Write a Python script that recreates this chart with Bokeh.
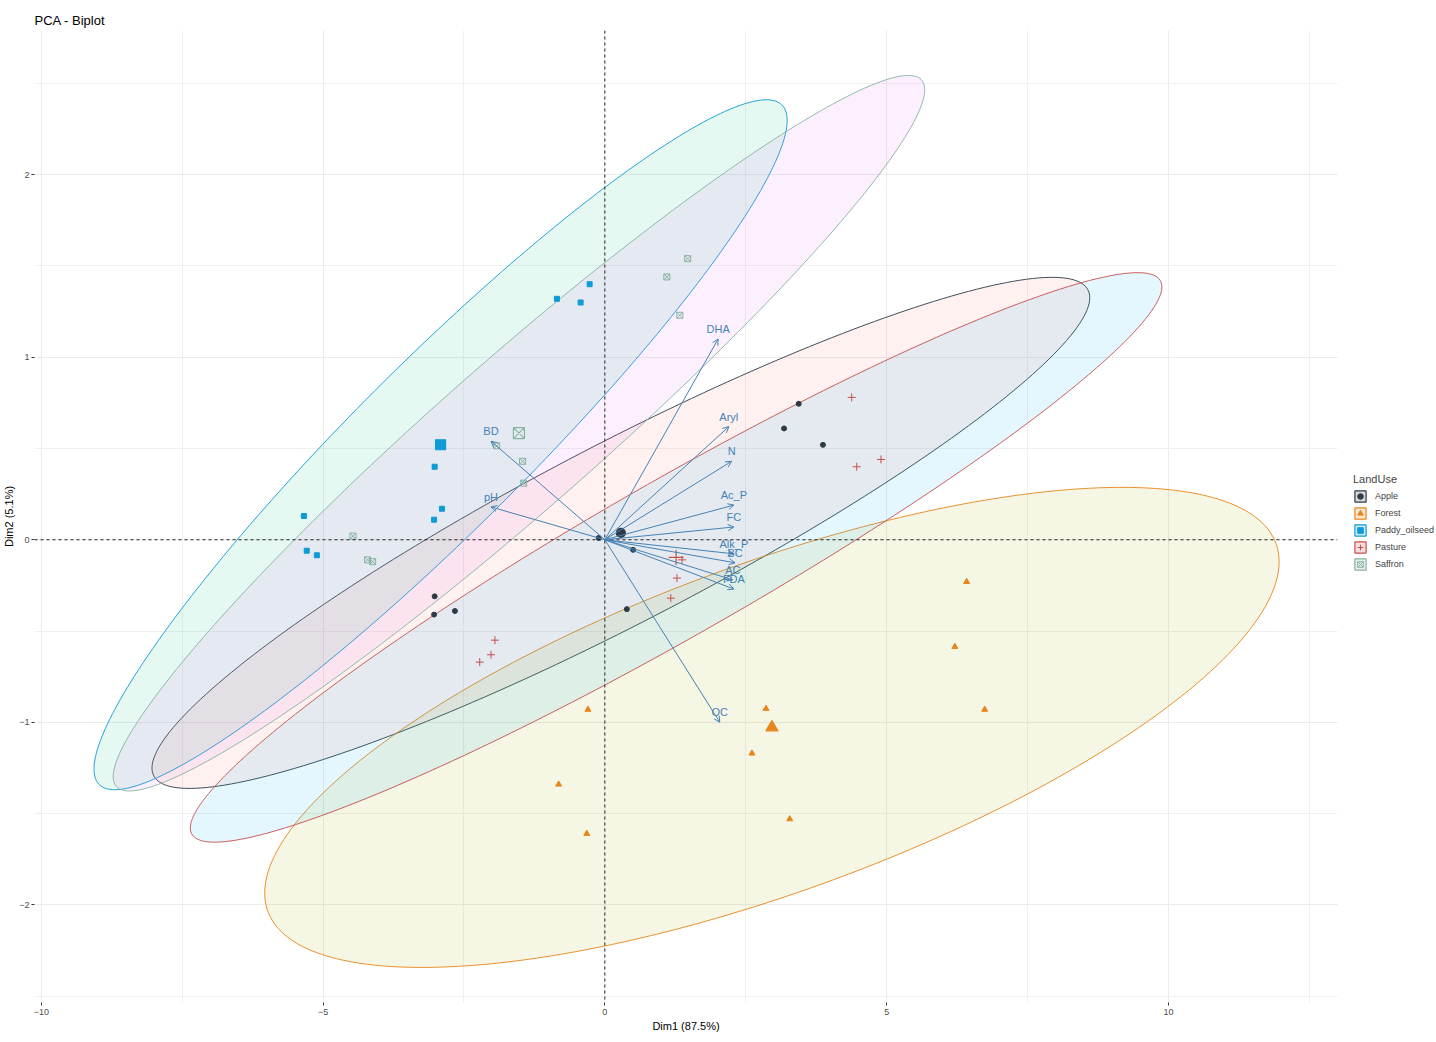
import numpy as np
from bokeh.plotting import figure
from bokeh.models import (ColumnDataSource, Range1d, Span, Arrow, OpenHead, Legend,
                          LegendItem, SingleIntervalTicker, Title)
from bokeh.core.properties import value
from bokeh.embed import file_html
from bokeh.resources import INLINE

# ---------------- data ----------------
groups = ["Apple", "Forest", "Paddy_oilseed", "Pasture", "Saffron"]

apple_x = [-0.11, 0.50, -3.02, -3.03, -2.66, 0.39, 3.18, 3.44, 3.87]
apple_y = [0.01, -0.055, -0.31, -0.41, -0.39, -0.38, 0.61, 0.745, 0.52]
forest_x = [6.42, 6.21, 6.74, -0.30, 2.86, 2.61, -0.82, -0.32, 3.28]
forest_y = [-0.23, -0.586, -0.93, -0.93, -0.925, -1.17, -1.34, -1.61, -1.53]
paddy_x = [-0.85, -0.43, -0.27, -3.02, -2.89, -3.03, -5.34, -5.29, -5.11]
paddy_y = [1.32, 1.30, 1.40, 0.40, 0.17, 0.11, 0.13, -0.06, -0.085]
pasture_x = [1.37, 1.28, 1.17, 4.38, 4.90, 4.47, -1.95, -2.02, -2.22]
pasture_y = [-0.11, -0.21, -0.32, 0.78, 0.44, 0.40, -0.55, -0.63, -0.67]
saffron_x = [1.47, 1.10, 1.33, -1.92, -1.46, -1.44, -4.47, -4.21, -4.12]
saffron_y = [1.54, 1.44, 1.23, 0.515, 0.43, 0.31, 0.02, -0.11, -0.12]

# confidence ellipses: half-extent in x, half-extent in y, correlation
ellipse_hx = [8.32, 9.00, 6.15, 8.62, 7.20]
ellipse_hy = [1.40, 1.315, 1.89, 1.56, 1.96]
ellipse_r = [0.92, 0.69, 0.94, 0.95, 0.96]

var_names = ["BD", "pH", "Aryl", "N", "Ac_P", "FC", "Alk_P", "BC", "AC", "FDA", "DHA", "OC"]
var_x = [-2.02, -2.02, 2.20, 2.25, 2.29, 2.29, 2.29, 2.31, 2.27, 2.29, 2.01, 2.04]
var_y = [0.54, 0.18, 0.62, 0.43, 0.19, 0.07, -0.077, -0.126, -0.22, -0.27, 1.10, -1.00]

x_limits = [-10.12, 13.00]
y_limits = [-2.535, 2.79]

# ---------------- styles ----------------
FONT = "Liberation Sans"
group_colors = ["#2E3B46", "#E7861B", "#0E9BD6", "#C4504E", "#86B3A2"]
ellipse_fills = ["#F8766D", "#A3A500", "#00BF7D", "#00B0F6", "#E76BF3"]
markers = ["circle", "triangle", "square", "cross", "square_x"]
pt_sizes = [5, 6, 5, 8, 6]
ctr_sizes = [9, 12, 10, 15, 11]
ARROW = "#4682B4"

xs_all = [apple_x, forest_x, paddy_x, pasture_x, saffron_x]
ys_all = [apple_y, forest_y, paddy_y, pasture_y, saffron_y]

p = figure(frame_width=1303, frame_height=972,
           x_range=Range1d(*x_limits), y_range=Range1d(*y_limits),
           output_backend="svg", toolbar_location=None,
           min_border_left=0, min_border_top=0, min_border_bottom=0,
           min_border_right=0, title=None)

# main title (closest to the frame), then a small blank spacer above it
p.add_layout(Title(text="PCA - Biplot", text_font=FONT, text_font_size="13px",
                   text_font_style="normal", text_color="black",
                   standoff=5, offset=0, align="left"), "above")
p.add_layout(Title(text=" ", text_font_size="5px", standoff=0), "above")

p.outline_line_color = None
p.background_fill_color = "white"
p.border_fill_color = "white"

p.xaxis.ticker = SingleIntervalTicker(interval=5, num_minor_ticks=2)
p.yaxis.ticker = SingleIntervalTicker(interval=1, num_minor_ticks=2)
p.xaxis.axis_label = "Dim1 (87.5%)"
p.yaxis.axis_label = "Dim2 (5.1%)"
for ax in (p.xaxis, p.yaxis):
    ax.axis_label_text_font = FONT
    ax.axis_label_text_font_size = "11px"
    ax.axis_label_text_font_style = "normal"
    ax.axis_label_text_color = "black"
    ax.major_label_text_font = FONT
    ax.major_label_text_font_size = "9px"
    ax.major_label_text_color = "#4D4D4D"
    ax.axis_line_color = None
    ax.major_tick_line_color = "#333333"
    ax.major_tick_out = 3
    ax.major_tick_in = 0
    ax.minor_tick_line_color = None
    ax.major_label_standoff = 1
    ax.axis_label_standoff = 1
p.xaxis.major_label_standoff = 2
p.xaxis.axis_label_standoff = 2

for g in (p.xgrid, p.ygrid):
    g.grid_line_color = "#EBEBEB"
    g.grid_line_width = 1
    g.minor_grid_line_color = "#F0F0F0"
    g.minor_grid_line_width = 1

# ellipses
t = np.linspace(0, 2 * np.pi, 240)
centers = []
for i, g in enumerate(groups):
    cx = float(np.mean(xs_all[i]))
    cy = float(np.mean(ys_all[i]))
    centers.append((cx, cy))
    hx, hy, r = ellipse_hx[i], ellipse_hy[i], ellipse_r[i]
    ex = cx + hx * np.cos(t)
    ey = cy + hy * (r * np.cos(t) + np.sqrt(1 - r * r) * np.sin(t))
    p.patch(ex, ey, fill_color=ellipse_fills[i], fill_alpha=0.1,
            line_color=group_colors[i], line_width=1, line_alpha=0.9)

# points
point_renderers = []
for i, g in enumerate(groups):
    col = group_colors[i]
    mk = markers[i]
    fill = None if mk in ("cross", "square_x") else col
    r = p.scatter(xs_all[i], ys_all[i], marker=mk, size=pt_sizes[i],
                  fill_color=fill, line_color=col, line_width=1)
    point_renderers.append(r)
    cx, cy = centers[i]
    p.scatter([cx], [cy], marker=mk, size=ctr_sizes[i],
              fill_color=fill, line_color=col, line_width=1.2)

# reference lines
p.add_layout(Span(location=0, dimension="height", line_color="#222222",
                  line_dash="3 3", line_width=1))
p.add_layout(Span(location=0, dimension="width", line_color="#222222",
                  line_dash="3 3", line_width=1))

# variable arrows
asrc = ColumnDataSource(dict(x0=[0.0] * len(var_x), y0=[0.0] * len(var_y),
                             x1=var_x, y1=var_y, name=var_names))
p.add_layout(Arrow(source=asrc, x_start="x0", y_start="y0", x_end="x1", y_end="y1",
                   line_color=ARROW, line_width=1,
                   end=OpenHead(size=6, line_color=ARROW, line_width=1)))
p.text(x="x1", y="y1", text="name", source=asrc, text_font=value(FONT),
       text_font_size="11px", text_color=ARROW, text_align="center",
       text_baseline="middle", y_offset=-10)

# legend (dummy boxes placed outside the visible range)
items = []
for i, g in enumerate(groups):
    col = group_colors[i]
    box = p.quad(left=[100], right=[101], bottom=[100], top=[101],
                 fill_color=col, fill_alpha=0.2, line_color=col, line_width=1.2)
    items.append(LegendItem(label=g, renderers=[box, point_renderers[i]]))

legend = Legend(items=items, title="LandUse", location=(16, 431),
                glyph_width=14, glyph_height=14, spacing=3, label_standoff=8,
                padding=0, margin=0, border_line_color=None,
                background_fill_alpha=0, label_text_font=FONT,
                label_text_font_size="9px", label_height=14,
                title_text_font=FONT, title_text_font_size="11px",
                title_text_font_style="normal", title_standoff=4)
p.add_layout(legend, "right")

open("out.html", "w").write(file_html(p, INLINE))
